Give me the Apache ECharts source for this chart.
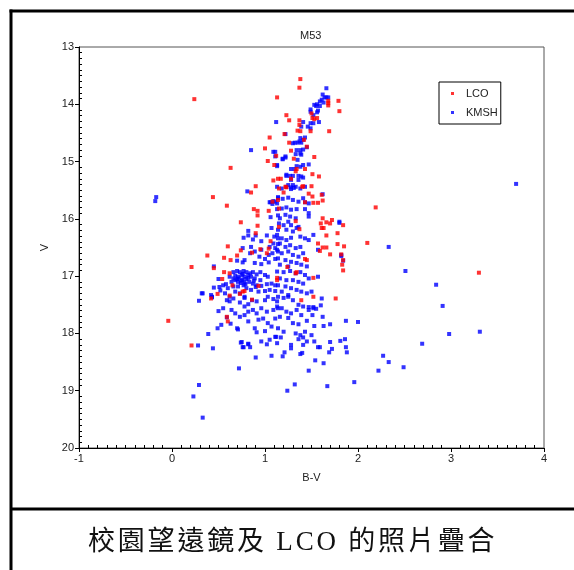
<!DOCTYPE html>
<html>
<head>
<meta charset="utf-8">
<script src="https://cdn.jsdelivr.net/npm/echarts@6.0.0/dist/echarts.min.js"></script>
<style>
  body { margin: 0; background: #fff; }
  #wrap { position: relative; width: 574px; height: 570px; }
  #chart { position: absolute; left: 0; top: 0; width: 574px; height: 570px; }
  #caption {
    position: absolute; left: 88px; top: 526px;
    font-family: "Liberation Serif", "Noto Sans CJK TC", serif;
    font-size: 27px; line-height: 30px; letter-spacing: 2.8px;
    color: #111; white-space: nowrap;
  }
</style>
</head>
<body>
<div id="wrap">
  <div id="chart"></div>
  <div id="caption">校園望遠鏡及 LCO 的照片疊合</div>
</div>
<script>
// M53 colour-magnitude diagram, B-V vs V
const chartTitle = 'M53'
const seriesNames = ['LCO', 'KMSH']
const xRange = [-1, 4]
const yRange = [13, 20]

// LCO stars [B-V, V]
const lcoPoints = [
  [0.24,13.91],[1.38,13.56],[1.37,13.71],[1.13,13.88],[1.79,13.94],[1.68,13.94],[1.68,14.02],[1.80,14.12],
  [1.50,14.16],[1.51,14.24],[1.53,14.26],[1.56,14.24],[1.23,14.19],[1.26,14.28],[1.37,14.28],[1.35,14.46],
  [1.49,14.47],[1.69,14.47],[1.05,14.58],[1.42,14.62],[1.26,14.67],[1.00,14.77],[1.28,14.81],[1.45,14.74],
  [1.12,14.90],[1.53,14.92],[1.03,14.99],[1.31,14.95],[1.10,15.06],[0.63,15.11],[1.43,15.13],[1.33,15.17],
  [1.51,15.22],[1.58,15.26],[1.14,15.30],[1.17,15.30],[1.09,15.33],[0.90,15.43],[0.85,15.54],[1.15,15.47],
  [1.23,15.45],[1.20,15.54],[1.40,15.44],[1.50,15.43],[0.44,15.62],[0.59,15.77],[1.47,15.56],[1.61,15.58],
  [1.51,15.61],[1.57,15.72],[1.52,15.72],[1.43,15.71],[1.62,15.68],[1.14,15.67],[1.08,15.70],[0.88,15.83],
  [0.92,15.86],[1.04,15.86],[1.15,15.82],[2.19,15.80],[0.74,16.06],[0.92,16.12],[0.92,15.94],[1.62,15.99],
  [1.72,16.02],[1.66,16.06],[1.60,16.08],[1.70,16.08],[1.61,16.16],[1.63,16.16],[1.84,16.11],[1.78,16.25],
  [1.66,16.29],[2.10,16.42],[1.78,16.44],[1.85,16.48],[1.57,16.43],[1.62,16.50],[1.66,16.50],[0.60,16.48],
  [0.38,16.64],[0.56,16.68],[0.70,16.64],[0.74,16.55],[0.86,16.59],[0.95,16.53],[1.04,16.52],[0.90,16.25],
  [1.15,16.14],[1.33,16.04],[1.37,16.18],[1.59,16.56],[1.70,16.62],[1.82,16.62],[1.84,16.90],[0.63,16.72],
  [1.06,16.39],[1.02,16.60],[0.45,16.86],[0.21,16.84],[0.56,16.93],[0.62,16.95],[0.54,17.05],[0.65,17.16],
  [0.76,17.27],[0.78,17.26],[0.73,17.31],[0.49,17.31],[0.42,17.39],[0.62,17.34],[0.93,17.17],[1.13,17.03],
  [1.13,17.07],[1.24,16.84],[1.33,16.95],[1.34,16.93],[1.45,16.72],[1.43,16.70],[1.52,17.03],[1.39,17.42],
  [1.52,17.36],[1.76,17.39],[0.86,17.41],[-0.04,17.78],[0.59,17.71],[0.60,17.79],[0.21,18.21],[3.30,16.94],
  [1.68,13.98],[1.37,14.36],[1.38,14.47],[1.21,14.52],[1.34,15.13],[1.28,15.30],[1.41,15.43],[1.22,15.44],
  [1.84,16.72],[1.83,16.80]
]

// KMSH (campus telescope) stars [B-V, V]
const kmshPoints = [
  [1.66,13.72],[1.62,13.83],[1.64,13.88],[1.66,13.88],[1.68,13.88],[1.61,13.92],[1.59,13.95],[1.53,14.01],
  [1.55,14.03],[1.56,14.00],[1.59,14.03],[1.63,13.97],[1.57,14.11],[1.56,14.14],[1.49,14.09],[1.49,14.13],
  [1.52,14.19],[1.58,14.31],[1.49,14.33],[1.52,14.33],[1.46,14.39],[1.49,14.42],[1.41,14.31],[1.39,14.39],
  [1.12,14.31],[1.22,14.52],[1.43,14.58],[1.41,14.62],[1.38,14.59],[1.37,14.65],[1.35,14.67],[1.32,14.67],
  [1.30,14.68],[1.39,14.67],[1.45,14.75],[1.41,14.79],[1.38,14.80],[1.34,14.80],[1.38,14.86],[1.39,14.88],
  [1.33,14.87],[1.35,14.97],[1.22,14.93],[1.19,14.96],[1.11,14.83],[1.13,15.06],[1.47,15.05],[1.41,15.06],
  [1.34,15.08],[1.38,15.09],[1.32,15.13],[1.28,15.13],[1.36,15.25],[1.30,15.25],[1.27,15.25],[1.39,15.26],
  [1.41,15.28],[1.23,15.25],[1.36,15.32],[1.28,15.32],[1.25,15.41],[1.30,15.41],[1.33,15.44],[1.28,15.45],
  [0.85,14.80],[1.09,14.83],[1.11,14.91],[0.81,15.52],[-0.17,15.62],[-0.18,15.69],[3.70,15.39],[1.23,15.23],
  [1.05,15.71],[1.08,15.74],[1.11,15.70],
  [1.14,15.62],[1.13,15.73],[1.09,15.69],[1.06,15.71],[1.14,15.94],[1.06,15.97],[0.82,16.21],[0.77,16.33],
  [0.82,16.29],[0.90,16.29],[0.87,16.36],[1.02,16.29],[1.07,16.16],[1.10,16.31],[1.14,16.34],[0.96,16.39],
  [0.76,16.51],[0.85,16.49],[0.89,16.57],[0.84,16.60],[0.96,16.54],[1.04,16.63],[1.08,16.60],[1.11,16.51],
  [1.14,16.57],[0.94,16.66],[1.00,16.70],[1.11,16.70],[0.45,16.83],[0.76,16.76],[0.78,16.72],[0.70,16.73],
  [0.89,16.77],[0.96,16.79],[1.04,16.76],[1.15,16.08],[1.09,16.43],[1.14,16.44],[1.05,16.49],
  [0.66,16.93],[0.70,16.91],[0.73,16.93],[0.77,16.91],[0.80,16.93],[0.84,16.95],[0.87,16.93],[0.91,16.97],
  [0.95,16.93],[1.00,16.98],[1.03,17.01],[0.62,17.01],[0.68,16.99],[0.71,17.01],[0.75,16.98],[0.78,17.01],
  [0.82,17.03],[0.85,17.01],[0.89,17.04],[0.95,17.07],[0.64,17.10],[0.68,17.07],[0.71,17.10],[0.75,17.08],
  [0.78,17.11],[0.83,17.10],[0.87,17.13],[0.91,17.16],[0.96,17.17],[1.02,17.14],[1.07,17.13],[1.11,17.16],
  [0.58,17.14],[0.55,17.16],[0.60,17.21],[0.66,17.18],[0.71,17.18],[0.77,17.16],[0.80,17.21],[0.85,17.24],
  [0.93,17.27],[1.00,17.26],[1.05,17.24],[1.11,17.26],[0.68,17.27],[0.73,17.30],[0.57,17.30],[0.62,17.36],
  [0.78,17.36],[0.72,17.04],[0.76,17.06],[0.80,17.05],[0.74,17.12],[0.79,17.14],[0.70,17.05],[0.82,16.98],
  [0.66,17.04],[0.88,17.08],[0.76,16.96],[0.33,17.30],[0.42,17.33],[0.45,17.20],[0.50,17.05],[0.52,17.25],
  [0.32,17.30],[0.43,17.37],[0.51,17.19],
  [1.13,15.44],[1.18,15.47],[1.23,15.44],[1.28,15.48],[1.31,15.46],[1.38,15.47],[1.43,15.44],[1.62,15.57],
  [1.14,15.64],[1.19,15.65],[1.25,15.63],[1.30,15.67],[1.41,15.64],[1.36,15.70],[1.43,15.71],[1.47,15.73],
  [1.13,15.83],[1.18,15.82],[1.23,15.80],[1.28,15.84],[1.34,15.83],[1.43,15.83],[1.47,15.90],[1.47,15.96],
  [1.22,15.93],[1.27,15.96],[1.33,15.99],[1.16,15.99],[1.25,16.05],[1.20,16.11],[1.28,16.11],[1.36,16.14],
  [1.14,16.19],[1.23,16.19],[1.30,16.22],[1.34,16.16],[1.80,16.05],[1.43,16.34],[1.47,16.37],[1.52,16.28],
  [1.38,16.31],[1.57,16.54],[1.82,16.63],[1.84,16.73],
  [1.13,16.28],[1.18,16.34],[1.23,16.37],[1.28,16.33],[1.16,16.43],[1.22,16.49],[1.27,16.46],[1.33,16.51],
  [1.38,16.49],[1.13,16.54],[1.18,16.60],[1.25,16.57],[1.30,16.63],[1.36,16.66],[1.41,16.60],[1.14,16.69],
  [1.22,16.72],[1.28,16.75],[1.34,16.77],[1.39,16.80],[1.45,16.83],[1.16,16.80],[1.25,16.83],[1.13,16.92],
  [1.20,16.93],[1.27,16.91],[1.33,16.95],[1.38,16.93],[1.43,16.98],[1.47,17.04],[1.16,17.04],[1.23,17.07],
  [1.30,17.07],[1.36,17.10],[1.41,17.13],[1.14,17.16],[1.22,17.18],[1.28,17.21],[1.34,17.24],[1.39,17.27],
  [1.45,17.30],[1.18,17.27],[1.25,17.33],[1.50,17.27],[1.57,17.01],
  [0.29,17.43],[0.43,17.36],[0.59,17.42],[0.62,17.44],[0.66,17.39],[0.73,17.46],[0.78,17.38],[0.82,17.49],
  [0.86,17.42],[0.91,17.44],[1.00,17.42],[1.03,17.36],[1.09,17.40],[1.13,17.44],[0.50,17.61],[0.55,17.56],
  [0.64,17.59],[0.68,17.65],[0.78,17.53],[0.82,17.62],[0.87,17.59],[0.91,17.65],[0.96,17.56],[1.02,17.62],
  [1.09,17.59],[1.14,17.56],[0.59,17.72],[0.73,17.71],[0.78,17.68],[0.82,17.79],[0.93,17.76],[0.98,17.74],
  [1.03,17.82],[1.11,17.74],[1.07,17.88],[1.14,17.91],[0.53,17.85],[0.49,17.91],[0.63,17.83],[0.70,17.91],
  [0.71,17.93],[0.89,17.91],[0.91,17.98],[1.00,17.96],[0.96,18.14],[1.02,18.19],[1.05,18.11],[1.11,18.06],
  [1.13,18.17],[1.07,18.39],[0.39,18.01],[0.28,18.21],[0.44,18.26],[0.75,18.15],[0.82,18.19],[0.84,18.24],
  [0.77,18.24],[0.90,18.42],[0.72,18.61],[0.29,18.90],[0.23,19.10],[0.33,19.47],
  [1.14,17.36],[1.20,17.38],[1.25,17.36],[1.30,17.42],[1.36,17.50],[1.41,17.53],[1.47,17.59],[1.52,17.56],
  [1.55,17.57],[1.60,17.51],[1.13,17.53],[1.18,17.56],[1.23,17.62],[1.28,17.65],[1.34,17.59],[1.39,17.68],
  [1.16,17.71],[1.25,17.73],[1.30,17.82],[1.36,17.84],[1.20,17.97],[1.33,18.00],[1.38,18.03],[1.43,17.97],
  [1.50,18.03],[1.61,17.39],[1.62,17.71],[1.51,17.68],[1.53,17.87],[1.63,17.87],[1.70,17.84],[1.87,17.78],
  [2.00,17.80],[1.12,18.06],[1.17,18.07],[1.36,18.10],[1.41,18.07],[1.45,18.14],[1.41,18.20],[1.53,18.14],
  [1.57,18.24],[1.59,18.24],[1.70,18.15],[1.72,18.27],[1.81,18.13],[1.86,18.10],[1.87,18.24],[1.88,18.33],
  [1.69,18.33],[1.40,18.34],[1.38,18.36],[1.21,18.33],[1.19,18.40],[1.28,18.20],[1.28,18.26],[1.54,18.47],
  [1.63,18.52],[1.47,18.65],[1.32,18.89],[1.24,19.00],[1.67,18.92],[1.96,18.85],
  [2.33,16.49],[2.51,16.91],[2.84,17.15],[2.91,17.52],[2.69,18.18],[2.98,18.01],[3.31,17.97],[2.27,18.39],
  [2.33,18.50],[2.49,18.59],[2.22,18.65],[1.80,16.07],[1.82,16.65],[1.47,17.54],[1.52,17.54],[1.45,17.78],
  [0.74,18.16],[0.76,18.24],[0.82,18.18],[0.90,17.19],[1.19,14.95],[1.22,14.91],[1.13,15.08]
]

const chart = echarts.init(document.getElementById('chart'))

const labelFont = { fontSize: 11, color: '#222', fontFamily: 'Liberation Sans, Arial' }

chart.setOption({
  animation: false,
  backgroundColor: '#fff',
  title: {
    text: chartTitle,
    left: 300,
    top: 30,
    padding: 0,
    textStyle: { fontSize: 11, fontWeight: 'normal', color: '#222', fontFamily: 'Liberation Sans, Arial' }
  },
  legend: {
    data: seriesNames,
    orient: 'vertical',
    left: 439,
    top: 82,
    padding: [5, 3, 5, 12],
    itemGap: 6,
    itemWidth: 3,
    itemHeight: 3,
    icon: 'rect',
    borderColor: '#000',
    borderWidth: 1,
    selectedMode: false,
    textStyle: Object.assign({ padding: [0, 0, 0, 7], lineHeight: 13 }, labelFont)
  },
  grid: {
    left: 79,
    right: 30,
    top: 47,
    bottom: 122,
    show: true,
    borderColor: '#555',
    borderWidth: 1
  },
  xAxis: [{
    type: 'value',
    min: xRange[0],
    max: xRange[1],
    interval: 1,
    name: 'B-V',
    nameLocation: 'middle',
    nameGap: 24,
    nameTextStyle: labelFont,
    axisLine: { onZero: false, lineStyle: { color: '#000', width: 1 } },
    axisTick: { show: true, length: 4, lineStyle: { color: '#000' } },
    axisLabel: Object.assign({ margin: 5 }, labelFont),
    splitLine: { show: false }
  }, {
    // inner minor ticks
    type: 'value',
    position: 'bottom',
    min: xRange[0],
    max: xRange[1],
    interval: 1,
    axisLine: { show: false, onZero: false },
    axisTick: { show: false, inside: true },
    minorTick: { show: true, splitNumber: 10, length: 3, lineStyle: { color: '#000' } },
    axisLabel: { show: false },
    splitLine: { show: false }
  }],
  yAxis: [{
    type: 'value',
    inverse: true,
    min: yRange[0],
    max: yRange[1],
    interval: 1,
    name: 'V',
    nameLocation: 'middle',
    nameGap: 22,
    nameRotate: 90,
    nameTextStyle: labelFont,
    axisLine: { onZero: false, lineStyle: { color: '#000', width: 1 } },
    axisTick: { show: true, length: 4, lineStyle: { color: '#000' } },
    axisLabel: Object.assign({ margin: 5 }, labelFont),
    splitLine: { show: false }
  }, {
    type: 'value',
    position: 'left',
    inverse: true,
    min: yRange[0],
    max: yRange[1],
    interval: 1,
    axisLine: { show: false, onZero: false },
    axisTick: { show: false, inside: true },
    minorTick: { show: true, splitNumber: 10, length: 3, lineStyle: { color: '#000' } },
    axisLabel: { show: false },
    splitLine: { show: false }
  }],
  graphic: [
    { type: 'line', shape: { x1: 11, y1: 9.5, x2: 11, y2: 570 }, style: { stroke: '#000', lineWidth: 3 } },
    { type: 'line', shape: { x1: 9.5, y1: 11, x2: 574, y2: 11 }, style: { stroke: '#000', lineWidth: 3 } },
    { type: 'line', shape: { x1: 11, y1: 509, x2: 574, y2: 509 }, style: { stroke: '#000', lineWidth: 3 } }
  ],
  series: [{
    name: 'KMSH',
    type: 'scatter',
    xAxisIndex: 0,
    yAxisIndex: 0,
    symbol: 'rect',
    symbolSize: 4,
    itemStyle: { color: '#0000ff' },
    data: kmshPoints
  }, {
    name: 'LCO',
    type: 'scatter',
    xAxisIndex: 0,
    yAxisIndex: 0,
    symbol: 'rect',
    symbolSize: 4,
    itemStyle: { color: '#ff0000' },
    data: lcoPoints
  }]
})
</script>
</body>
</html>
